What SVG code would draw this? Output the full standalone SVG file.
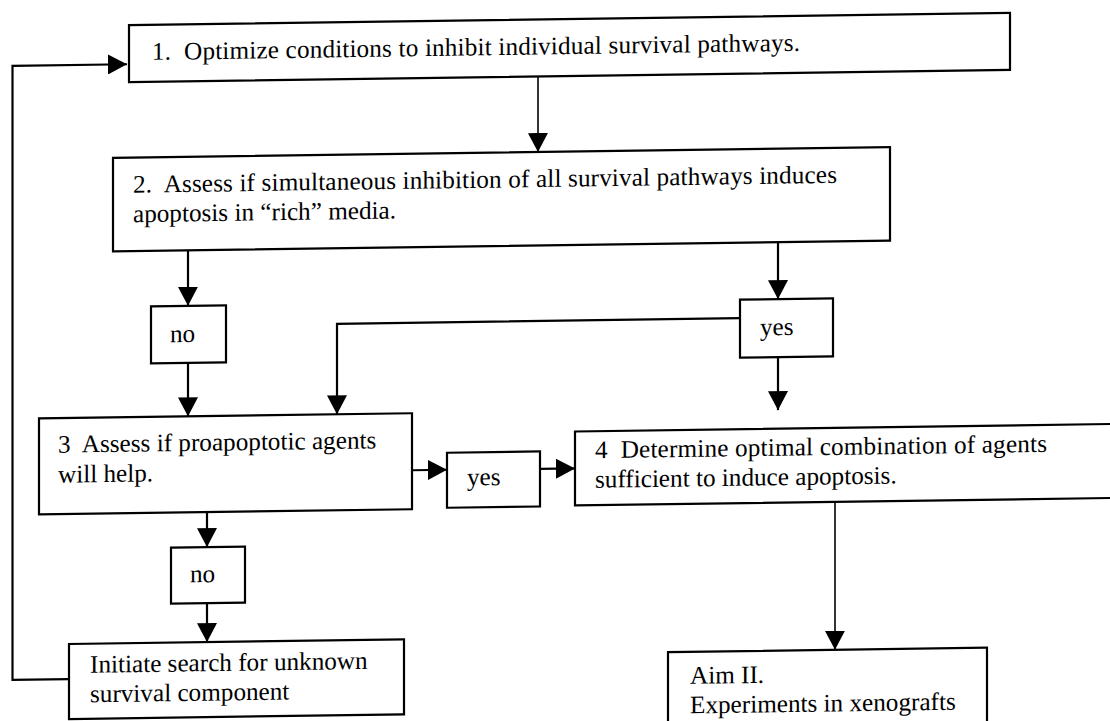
<svg xmlns="http://www.w3.org/2000/svg" width="1110" height="721" viewBox="0 0 1110 721" xml:space="preserve">
<defs>
<style>
.box{fill:#fff;stroke:#000;stroke-width:2.2}
.t{font-family:"Liberation Serif","Times New Roman",serif;font-size:25.2px;fill:#000;white-space:pre}
.c{fill:none;stroke:#000;stroke-width:2.2}
.thin{stroke-width:1.6}
</style>
<marker id="ah" viewBox="0 0 19 20" refX="19" refY="10" markerWidth="19" markerHeight="20" markerUnits="userSpaceOnUse" orient="auto"><path d="M0,0 L19,10 L0,20 z" fill="#000"/></marker>
</defs>
<rect width="1110" height="721" fill="#fff"/>
<g transform="skewY(-0.8)">
<g id="connectors">
<path class="c" d="M69,680 H12.5 V66 H127" marker-end="url(#ah)"/>
<path class="c thin" d="M538,84 V159.5" marker-end="url(#ah)"/>
<path class="c" d="M188,253 V308.5" marker-end="url(#ah)"/>
<path class="c" d="M188,365.5 V419" marker-end="url(#ah)"/>
<path class="c" d="M778,253.5 V310" marker-end="url(#ah)"/>
<path class="c" d="M740,328.5 H337 V419" marker-end="url(#ah)"/>
<path class="c" d="M778,368 V421" marker-end="url(#ah)"/>
<path class="c" d="M412,476 H447" marker-end="url(#ah)"/>
<path class="c" d="M540,476.5 H575" marker-end="url(#ah)"/>
<path class="c" d="M207,515 V550" marker-end="url(#ah)"/>
<path class="c" d="M207,606 V645" marker-end="url(#ah)"/>
<path class="c thin" d="M835,513.5 V661.5" marker-end="url(#ah)"/>
</g>
<g id="n1"><rect class="box" x="129" y="27" width="881" height="57"/><text class="t" x="152" y="62" textLength="648">1.  Optimize conditions to inhibit individual survival pathways.</text></g>
<g id="n2"><rect class="box" x="113" y="159.5" width="777" height="93.5"/><text class="t" x="133" y="194.5" textLength="704">2.  Assess if simultaneous inhibition of all survival pathways induces</text><text class="t" x="133" y="224">apoptosis in “rich” media.</text></g>
<g id="no1"><rect class="box" x="151" y="308.5" width="75" height="57"/><text class="t" x="170" y="344.5">no</text></g>
<g id="yes1"><rect class="box" x="740" y="310" width="93" height="58"/><text class="t" x="760" y="346">yes</text></g>
<g id="n3"><rect class="box" x="39" y="419" width="373" height="96"/><text class="t" x="58" y="453.5">3  Assess if proapoptotic agents</text><text class="t" x="58" y="483.5">will help.</text></g>
<g id="yes2"><rect class="box" x="447" y="459" width="93" height="55"/><text class="t" x="467" y="492">yes</text></g>
<g id="n4"><rect class="box" x="575" y="439.5" width="545" height="74"/><text class="t" x="595" y="466.5" textLength="452">4  Determine optimal combination of agents</text><text class="t" x="595" y="496">sufficient to induce apoptosis.</text></g>
<g id="no2"><rect class="box" x="171" y="550" width="74" height="56"/><text class="t" x="190" y="585">no</text></g>
<g id="n5"><rect class="box" x="69" y="645" width="335" height="75"/><text class="t" x="90" y="674">Initiate search for unknown</text><text class="t" x="90" y="703.5">survival component</text></g>
<g id="n6"><rect class="box" x="668" y="661.5" width="319" height="90"/><text class="t" x="690" y="693.5">Aim II.</text><text class="t" x="690" y="723">Experiments in xenografts</text></g>
</g>
</svg>
